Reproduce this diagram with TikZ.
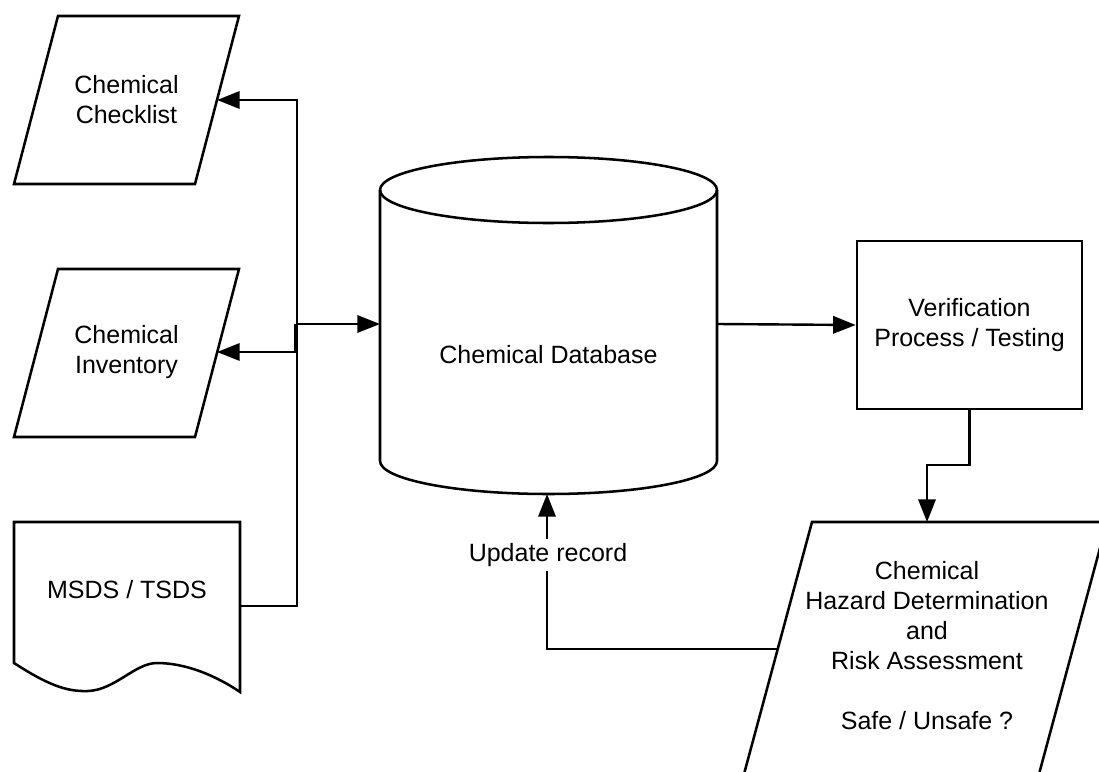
\documentclass[tikz,border=0pt]{standalone}
\usepackage{fontspec}
\setmainfont{Liberation Sans}
\usetikzlibrary{arrows.meta}
\tikzset{
  shapeline/.style={line width=1.9pt, line join=miter},
  arr/.style={line width=1.8pt, -{Triangle[length=17pt,width=13pt]}},
  lbl/.style={inner sep=0pt, align=center, font=\fontsize{18.75}{22.5}\selectfont},
}
\begin{document}
\begin{tikzpicture}[x=0.75pt,y=-0.75pt]
\useasboundingbox (0,0) rectangle (1099,771);
\clip (0,0) rectangle (1099,771);
\fill[white] (0,0) rectangle (1099,771);

% Chemical Checklist
\draw[shapeline] (58,16) -- (239,16) -- (195,184) -- (14,184) -- cycle;
\node[lbl] (ck) at (126.5,100) {Chemical\\Checklist};
\coordinate (ckIn) at (217,100);

% Chemical Inventory
\draw[shapeline] (58,269) -- (239,269) -- (195,437) -- (14,437) -- cycle;
\node[lbl] (inv) at (126.5,352) {Chemical\\Inventory};
\coordinate (invIn) at (217,352);

% MSDS / TSDS document
\draw[shapeline] (14,663) -- (14,522) -- (240,522) -- (240,692)
  .. controls (215,675) and (185,663) .. (157,663)
  .. controls (135,663) and (115,690) .. (88,691)
  .. controls (65,692) and (45,683) .. (14,663) -- cycle;
\node[lbl] (msds) at (127,590) {MSDS / TSDS};
\coordinate (msdsOut) at (240,606);

% bus
\coordinate (busTop) at (297,100);
\coordinate (busJ) at (297,324);
\coordinate (busInv) at (297,352);
\coordinate (busBot) at (297,606);

% Chemical Database cylinder
\draw[shapeline] (380,190) -- (380,461) arc[start angle=180, end angle=0, x radius=168.5, y radius=33] -- (717,190);
\draw[shapeline] (548.5,190) ellipse [x radius=168.5, y radius=33];
\node[lbl] (db) at (548.5,355) {Chemical Database};
\coordinate (dbW) at (380,324);
\coordinate (dbE) at (717,324);
\coordinate (dbS) at (547,494);

% Verification
\node[draw, shapeline, lbl, minimum width=168.75pt, minimum height=126pt] (ver) at (969.5,325) {Verification\\Process / Testing};

% Hazard parallelogram
\draw[shapeline] (812,522) -- (1107,522) -- (1032,800) -- (737,800) -- cycle;
\node[lbl] (hz) at (927,646) {Chemical\\Hazard Determination\\and\\Risk Assessment\\\mbox{}\\Safe / Unsafe ?};
\coordinate (hzTop) at (927,522);
\coordinate (hzW) at (778,649);

% connectors
\draw[arr] (msdsOut) -- (busBot) -- (busTop) -- (ckIn);
\draw[arr] (busInv) -- (invIn);
\draw[line width=3.2pt] (296,324) -- (296,352);
\draw[arr] (busJ) -- (dbW);
\draw[arr] (dbE) -- (ver.west);
\draw[arr] (ver.south) -- ++(0,55) -| (hzTop);
\draw[arr] (hzW) -| (dbS);
\node[lbl, fill=white, inner sep=3pt] (upd) at (548,555) {Update record};
\end{tikzpicture}
\end{document}
